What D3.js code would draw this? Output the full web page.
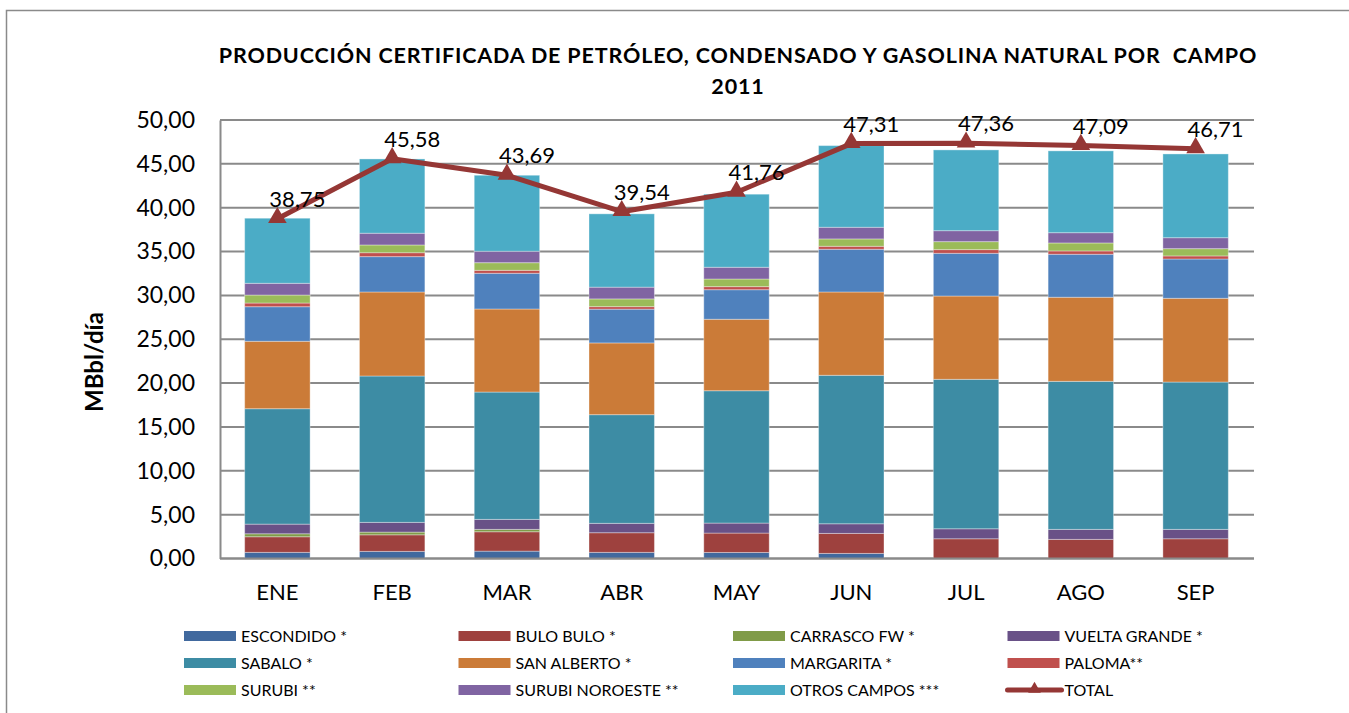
<!DOCTYPE html>
<html>
<head>
<meta charset="utf-8">
<script src="https://cdnjs.cloudflare.com/ajax/libs/d3/7.8.5/d3.min.js"></script>
<style>
  body { margin: 0; background: #fff; }
  svg { font-family: Lato, "Open Sans", sans-serif; }
</style>
</head>
<body>
<svg id="chart" width="1349" height="713"></svg>
<script>
// data (MBbl/día)
const months = ['ENE', 'FEB', 'MAR', 'ABR', 'MAY', 'JUN', 'JUL', 'AGO', 'SEP'];
const fields = ['ESCONDIDO *', 'BULO BULO *', 'CARRASCO FW *', 'VUELTA GRANDE *',
                'SABALO *', 'SAN ALBERTO *', 'MARGARITA *', 'PALOMA**',
                'SURUBI **', 'SURUBI NOROESTE **', 'OTROS CAMPOS ***'];
const escondido    = [0.70, 0.81, 0.84, 0.70, 0.69, 0.58, 0, 0, 0];
const buloBulo     = [1.78, 1.89, 2.21, 2.24, 2.21, 2.28, 2.25, 2.18, 2.25];
const carrasco     = [0.34, 0.31, 0.27, 0, 0, 0, 0, 0, 0];
const vueltaGrande = [1.10, 1.11, 1.14, 1.07, 1.14, 1.10, 1.14, 1.14, 1.07];
const sabalo       = [13.16, 16.69, 14.52, 12.39, 15.09, 16.93, 17.04, 16.88, 16.80];
const sanAlberto   = [7.69, 9.58, 9.47, 8.18, 8.15, 9.50, 9.50, 9.59, 9.55];
const margarita    = [3.94, 4.03, 4.07, 3.85, 3.37, 4.87, 4.87, 4.90, 4.48];
const paloma       = [0.42, 0.45, 0.34, 0.29, 0.35, 0.34, 0.42, 0.38, 0.35];
const surubi       = [0.91, 0.88, 0.87, 0.88, 0.87, 0.84, 0.91, 0.91, 0.83];
const surubiNO     = [1.34, 1.34, 1.30, 1.34, 1.34, 1.33, 1.25, 1.17, 1.25];
const otrosCampos  = [7.42, 8.47, 8.67, 8.36, 8.33, 9.31, 9.21, 9.33, 9.55];
const total        = [38.75, 45.58, 43.69, 39.54, 41.76, 47.31, 47.36, 47.09, 46.71];
const yTicks = [0, 5, 10, 15, 20, 25, 30, 35, 40, 45, 50];

const series = [escondido, buloBulo, carrasco, vueltaGrande, sabalo, sanAlberto,
                margarita, paloma, surubi, surubiNO, otrosCampos];
const colors = ['#41699e', '#9e413e', '#809b48', '#695187', '#3d8ca4', '#cb7b38',
                '#4f81bd', '#c0504d', '#9bbb59', '#8064a2', '#4bacc6'];
const lineColor = '#953735';

const svg = d3.select('#chart');

// outer chart frame
svg.append('rect')
  .attr('x', 6.5).attr('y', 10.5)
  .attr('width', 1400).attr('height', 760)
  .attr('fill', 'none').attr('stroke', '#8a8a8a').attr('stroke-width', 1.5);

// scales
const x = d3.scaleBand().domain(months).range([220, 1253])
  .paddingInner(0.43).paddingOuter(0.215);
const y = d3.scaleLinear().domain([0, 50]).range([558.5, 120]);

// title
const title = svg.append('text')
  .attr('text-anchor', 'middle')
  .attr('font-weight', 'bold')
  .attr('font-size', 21.5)
  .attr('letter-spacing', 0.85)
  .attr('fill', '#000');
title.append('tspan').attr('x', 738).attr('y', 63)
  .text('PRODUCCIÓN CERTIFICADA DE PETRÓLEO, CONDENSADO Y GASOLINA NATURAL POR  CAMPO')
  .style('white-space', 'pre');
title.append('tspan').attr('x', 738).attr('y', 94).text('2011');

// gridlines
svg.append('g').selectAll('line')
  .data(yTicks)
  .join('line')
  .attr('x1', 220).attr('x2', 1254)
  .attr('y1', d => y(d)).attr('y2', d => y(d))
  .attr('stroke', '#8a8a8a').attr('stroke-width', 2);

// y axis
const yAxis = d3.axisLeft(y)
  .tickValues(yTicks)
  .tickSize(0)
  .tickPadding(25)
  .tickFormat(d => d3.format('.2f')(d).replace('.', ','));
const gy = svg.append('g').attr('transform', 'translate(220,0)').call(yAxis);
gy.select('.domain').attr('stroke', '#8a8a8a').attr('stroke-width', 2);
gy.selectAll('text').attr('font-size', 23).attr('fill', '#000')
  .attr('font-family', 'Lato, sans-serif');

// y axis title
svg.append('text')
  .attr('transform', 'translate(103,362) rotate(-90)')
  .attr('text-anchor', 'middle')
  .attr('font-weight', 'bold')
  .attr('font-size', 24)
  .text('MBbl/día');

// stacked bars
const rows = months.map((m, i) => {
  const r = { month: m };
  fields.forEach((f, k) => { r[f] = series[k][i]; });
  return r;
});
const stacked = d3.stack().keys(fields)(rows);

svg.append('g').selectAll('g')
  .data(stacked)
  .join('g')
  .attr('fill', (d, k) => colors[k])
  .selectAll('rect')
  .data(d => d.filter(s => s[1] - s[0] > 0))
  .join('rect')
  .attr('x', d => x(d.data.month))
  .attr('width', x.bandwidth())
  .attr('y', d => y(d[1]))
  .attr('height', d => y(d[0]) - y(d[1]))
  .attr('stroke', 'rgba(255,255,255,0.35)')
  .attr('stroke-width', 1);

// x axis
svg.append('line')
  .attr('x1', 220).attr('x2', 1254)
  .attr('y1', y(0)).attr('y2', y(0))
  .attr('stroke', '#8a8a8a').attr('stroke-width', 2);
const xAxis = d3.axisBottom(x).tickSize(0).tickPadding(26);
const gx = svg.append('g').attr('transform', `translate(0,${y(0)})`).call(xAxis);
gx.select('.domain').remove();
gx.selectAll('text').attr('font-size', 22).attr('fill', '#000')
  .attr('font-family', 'Lato, sans-serif');

// total line
const cx = m => x(m) + x.bandwidth() / 2;
const line = d3.line().x((d, i) => cx(months[i])).y(d => y(d));
svg.append('path')
  .datum(total)
  .attr('d', line)
  .attr('fill', 'none')
  .attr('stroke', lineColor)
  .attr('stroke-width', 5)
  .attr('stroke-linejoin', 'round');

const tri = d3.symbol().type(d3.symbolTriangle).size(150);
svg.append('g').selectAll('path')
  .data(total)
  .join('path')
  .attr('d', tri)
  .attr('transform', (d, i) => `translate(${cx(months[i])},${y(d) - 1})`)
  .attr('fill', lineColor);

svg.append('g').selectAll('text')
  .data(total)
  .join('text')
  .attr('x', (d, i) => cx(months[i]) + 20)
  .attr('y', d => y(d) - 12)
  .attr('text-anchor', 'middle')
  .attr('font-size', 22)
  .text(d => d3.format('.2f')(d).replace('.', ','));

// legend
const legendItems = fields.concat(['TOTAL']);
const legend = svg.append('g').selectAll('g')
  .data(legendItems)
  .join('g')
  .attr('transform', (d, i) => `translate(${184 + (i % 4) * 274.5},${636 + Math.floor(i / 4) * 27})`);

legend.each(function (d, i) {
  const g = d3.select(this);
  if (d === 'TOTAL') {
    g.append('line').attr('x1', 0).attr('x2', 54).attr('y1', 0).attr('y2', 0)
      .attr('stroke', lineColor).attr('stroke-width', 5).attr('stroke-linecap', 'round');
    g.append('path').attr('d', d3.symbol().type(d3.symbolTriangle).size(70))
      .attr('transform', 'translate(27,-1)').attr('fill', lineColor);
  } else {
    g.append('rect').attr('x', 0).attr('y', -5).attr('width', 52).attr('height', 10)
      .attr('fill', colors[i]);
  }
  g.append('text').attr('x', 57).attr('y', 0).attr('dy', '0.35em')
    .attr('font-size', 16).text(d);
});
</script>
</body>
</html>
